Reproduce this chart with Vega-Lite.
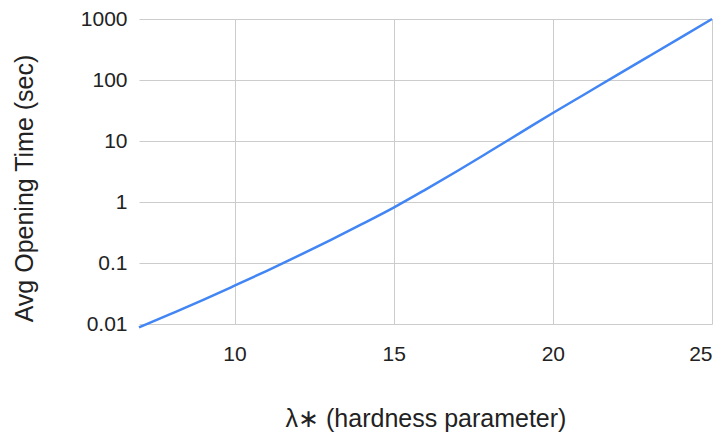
{
  "$schema": "https://vega.github.io/schema/vega-lite/v6.json",
  "autosize": "none",
  "width": 573,
  "height": 305,
  "padding": {"left": 139, "top": 19, "right": 12, "bottom": 111},
  "background": "white",
  "config": {"view": {"stroke": null}, "font": "Liberation Sans"},
  "data": {"values": [
    {"lambda": 7, "time": 0.00879},
    {"lambda": 8, "time": 0.01466},
    {"lambda": 9, "time": 0.02466},
    {"lambda": 10, "time": 0.04246},
    {"lambda": 11, "time": 0.0738},
    {"lambda": 12, "time": 0.1306},
    {"lambda": 13, "time": 0.2355},
    {"lambda": 14, "time": 0.4325},
    {"lambda": 15, "time": 0.809},
    {"lambda": 16, "time": 1.596},
    {"lambda": 17, "time": 3.221},
    {"lambda": 18, "time": 6.653},
    {"lambda": 19, "time": 13.84},
    {"lambda": 20, "time": 28.77},
    {"lambda": 21, "time": 58.48},
    {"lambda": 22, "time": 118.9},
    {"lambda": 23, "time": 241.5},
    {"lambda": 24, "time": 490.9},
    {"lambda": 25, "time": 1000}
  ]},
  "mark": {"type": "line", "color": "#4285F4", "strokeWidth": 2.5, "interpolate": "monotone"},
  "encoding": {
    "x": {
      "field": "lambda", "type": "quantitative",
      "scale": {"domain": [7, 25], "nice": false, "zero": false},
      "axis": {
        "title": "λ∗ (hardness parameter)",
        "values": [10, 15, 20, 25],
        "domain": false, "ticks": false,
        "gridColor": "#cccccc", "gridWidth": 1,
        "labelFontSize": 21, "labelColor": "#222222",
        "labelBaseline": "middle", "labelPadding": 30,
        "titleFontSize": 25, "titleFontWeight": "normal", "titleColor": "#222222",
        "titleBaseline": "alphabetic", "titleY": 102
      }
    },
    "y": {
      "field": "time", "type": "quantitative",
      "scale": {"type": "log", "domain": [0.01, 1000], "nice": false},
      "axis": {
        "title": "Avg Opening Time (sec)",
        "values": [0.01, 0.1, 1, 10, 100, 1000],
        "labelExpr": "datum.value < 1 ? format(datum.value, '.2~f') : format(datum.value, 'd')",
        "domain": false, "ticks": false,
        "gridColor": "#cccccc", "gridWidth": 1,
        "labelFontSize": 21, "labelColor": "#222222", "labelPadding": 12,
        "titleFontSize": 25, "titleFontWeight": "normal", "titleColor": "#222222",
        "titleBaseline": "alphabetic", "titleAlign": "center", "titleX": -107, "titleY": 169
      }
    }
  }
}
